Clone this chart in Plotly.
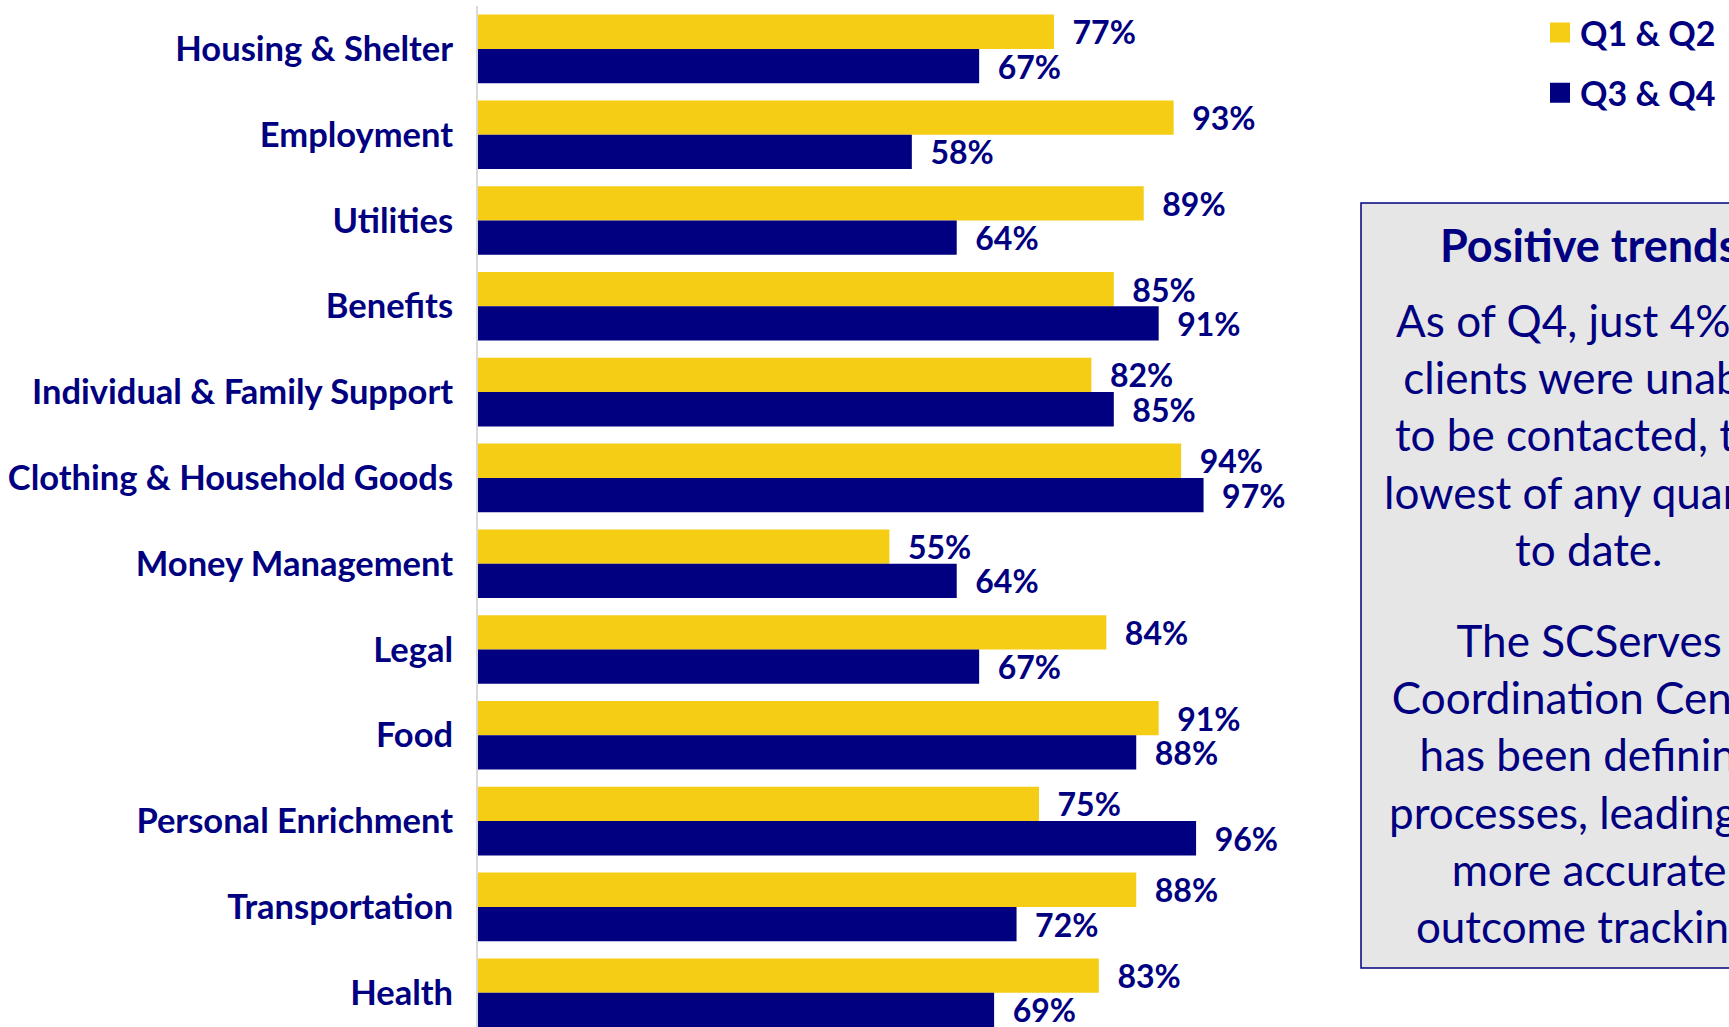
import plotly.graph_objects as go

categories = ["Housing & Shelter", "Employment", "Utilities", "Benefits",
              "Individual & Family Support", "Clothing & Household Goods",
              "Money Management", "Legal", "Food", "Personal Enrichment",
              "Transportation", "Health"]
q1q2 = [77, 93, 89, 85, 82, 94, 55, 84, 91, 75, 88, 83]
q3q4 = [67, 58, 64, 91, 85, 97, 64, 67, 88, 96, 72, 69]
series_names = ["Q1 & Q2", "Q3 & Q4"]

YELLOW = "#F4CD14"
NAVY = "#000080"
FONT = "Lato"

W, H = 1729, 1027
L, R, T, B = 478, 503, 6, 0
PW, PH = W - L - R, H - T - B
PITCH = 85.8


def px(x):
    return (x - L) / PW


def py(y):
    return 1 - (y - T) / PH


fig = go.Figure()
for name, vals, col in [(series_names[0], q1q2, YELLOW), (series_names[1], q3q4, NAVY)]:
    fig.add_trace(go.Bar(
        x=vals, y=categories, orientation="h", name=name,
        marker=dict(color=col, line=dict(width=0)),
        texttemplate="&nbsp;&nbsp;%{x}%", textposition="outside",
        constraintext="none",
        textfont=dict(family=FONT, size=32, color=NAVY, weight="bold"),
        cliponaxis=False, showlegend=False, hoverinfo="skip",
    ))
    # legend entry
    fig.add_trace(go.Scatter(
        x=[None], y=[None], mode="markers", name=name, legendgroup=name,
        marker=dict(symbol="square", size=16, color=col, line=dict(color=col, width=4)),
        showlegend=True,
    ))

fig.update_layout(
    width=W, height=H,
    margin=dict(l=L, r=R, t=T, b=B, pad=0, autoexpand=False),
    paper_bgcolor="white", plot_bgcolor="white",
    barmode="group", bargap=0.2, bargroupgap=0,
    font=dict(family=FONT, color=NAVY),
    legend=dict(
        x=px(1540), y=py(4), xanchor="left", yanchor="top",
        font=dict(family=FONT, size=34, color=NAVY, weight="bold"),
        tracegroupgap=13, bgcolor="rgba(0,0,0,0)",
    ),
    xaxis=dict(range=[0, 100], showticklabels=False, showgrid=False,
               zeroline=False, showline=False, ticks="", automargin=False),
    yaxis=dict(type="category", range=[-0.5 + PH / PITCH, -0.5],
               showgrid=False, zeroline=False, automargin=False,
               showline=True, linecolor="#D9D9D9", linewidth=2,
               ticks="", ticklen=0, ticklabelstandoff=16,
               tickfont=dict(family=FONT, size=34.5, color=NAVY, weight="bold")),
)

# Text box on the right
fig.add_shape(type="rect", xref="paper", yref="paper",
              x0=px(1361), x1=px(1840), y0=py(968), y1=py(203),
              fillcolor="#E6E6E6", line=dict(color=NAVY, width=1.5), layer="below")

CX = 1589
fig.add_annotation(xref="paper", yref="paper", x=px(CX), y=py(245),
                   text="<b>Positive trends</b>", showarrow=False,
                   xanchor="center", yanchor="middle",
                   font=dict(family=FONT, size=45, color=NAVY))
fig.add_annotation(xref="paper", yref="paper", x=px(CX), y=py(434.5),
                   text="As of Q4, just 4% of<br>clients were unable<br>to be contacted, the<br>lowest of any quarter<br>to date.",
                   showarrow=False, xanchor="center", yanchor="middle", align="center",
                   font=dict(family=FONT, size=44, color=NAVY))
fig.add_annotation(xref="paper", yref="paper", x=px(CX), y=py(783),
                   text="The SCServes<br>Coordination Center<br>has been defining<br>processes, leading to<br>more accurate<br>outcome tracking.",
                   showarrow=False, xanchor="center", yanchor="middle", align="center",
                   font=dict(family=FONT, size=44, color=NAVY))

fig.write_html("out.html")
